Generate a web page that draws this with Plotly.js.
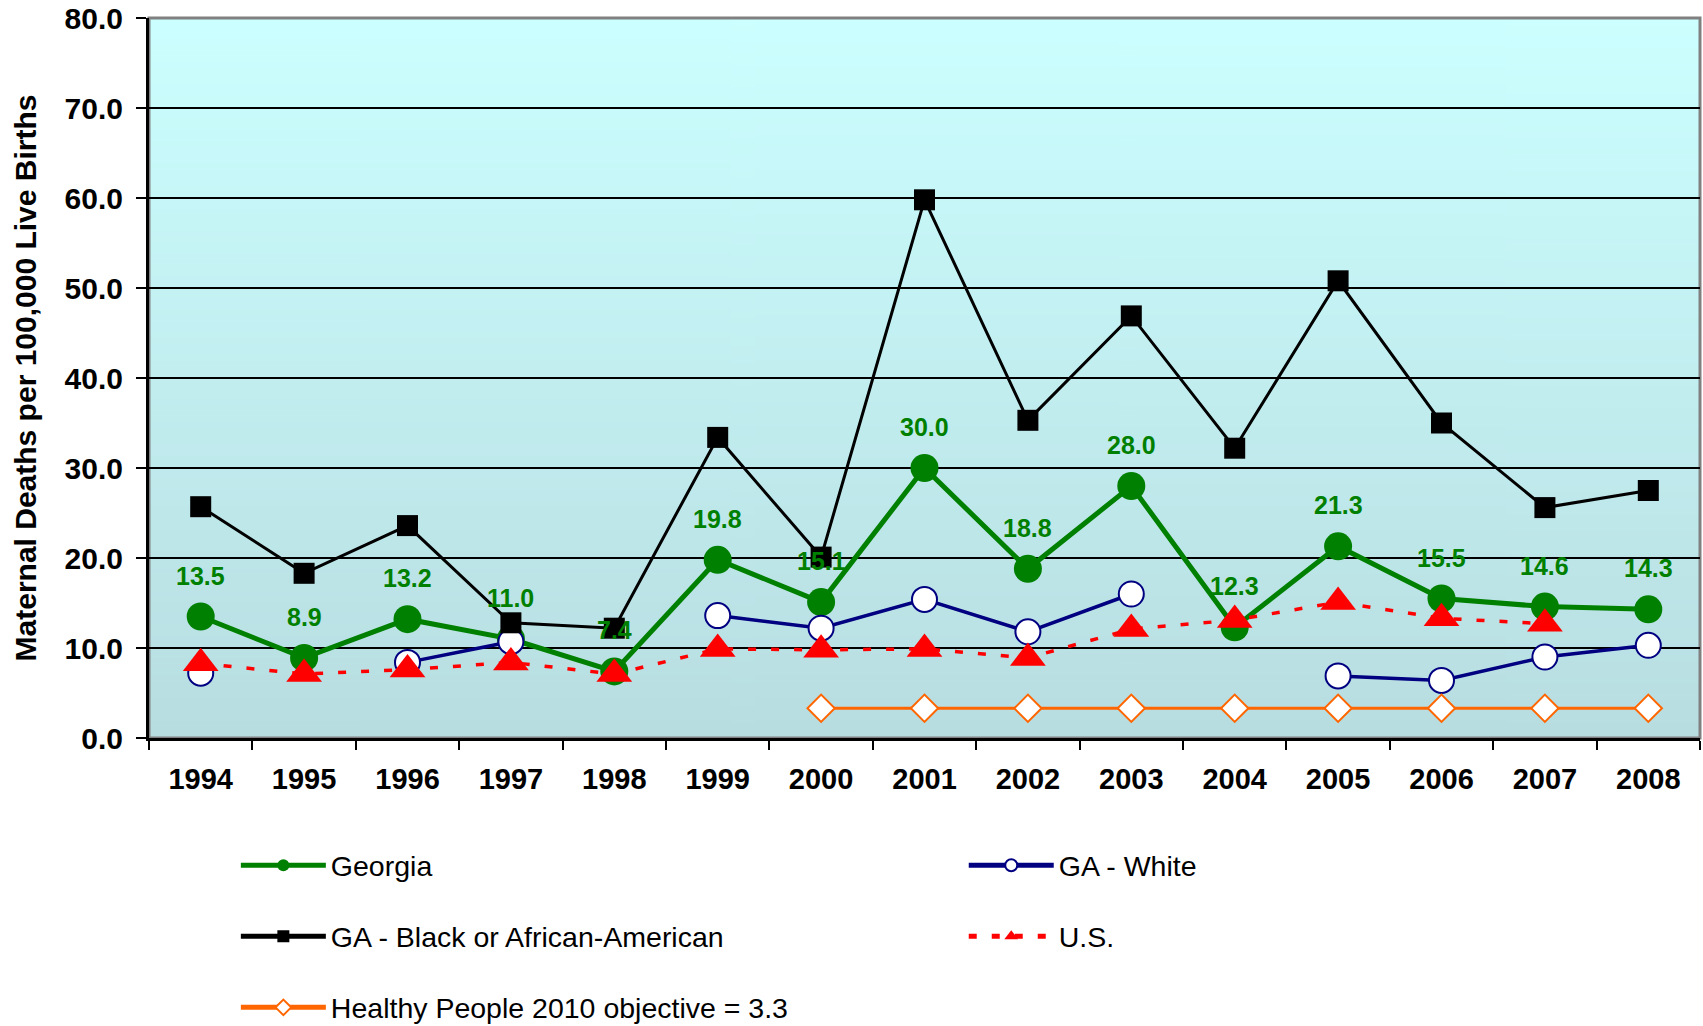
<!DOCTYPE html>
<html><head><meta charset="utf-8">
<script src="https://cdn.plot.ly/plotly-3.0.1.min.js"></script>
<style>html,body{margin:0;padding:0;background:#fff}#chart{width:1703px;height:1026px}</style>
</head><body><div id="chart"></div>
<script>
const years = ['1994','1995','1996','1997','1998','1999','2000','2001','2002','2003','2004','2005','2006','2007','2008'];
const georgia = [13.5, 8.9, 13.2, 11.0, 7.4, 19.8, 15.1, 30.0, 18.8, 28.0, 12.3, 21.3, 15.5, 14.6, 14.3];
const gaWhite = [7.2, null, 8.4, 10.7, null, 13.6, 12.2, 15.4, 11.8, 16.0, null, 6.9, 6.4, 9.0, 10.3];
const gaBlack = [25.7, 18.3, 23.6, 12.8, 12.2, 33.4, 20.1, 59.8, 35.3, 46.9, 32.2, 50.8, 35.0, 25.6, 27.5];
const us = [8.3, 7.1, 7.6, 8.4, 7.1, 9.9, 9.8, 9.9, 8.9, 12.1, 13.1, 15.1, 13.3, 12.7, null];
const healthyPeople = [null, null, null, null, null, null, 3.3, 3.3, 3.3, 3.3, 3.3, 3.3, 3.3, 3.3, 3.3];
const yTicks = [0, 10, 20, 30, 40, 50, 60, 70, 80];

const FONT = 'Liberation Sans, Arial, sans-serif';

// vertical gradient for the plot area background
const cv = document.createElement('canvas');
cv.width = 4; cv.height = 256;
const ctx = cv.getContext('2d');
const grad = ctx.createLinearGradient(0, 0, 0, 256);
grad.addColorStop(0, '#CCFFFF');
grad.addColorStop(1, '#B8DDE1');
ctx.fillStyle = grad; ctx.fillRect(0, 0, 4, 256);
const bgURL = cv.toDataURL();

const traces = [
  {x: years, y: georgia, name: 'Georgia', mode: 'lines+markers', legend: 'legend', legendgroup: 'g1',
   line: {color: '#008000', width: 5}, marker: {symbol: 'circle', size: 28, color: '#008000'}},
  {x: years, y: gaWhite, name: 'GA - White', mode: 'lines+markers', legend: 'legend2', legendgroup: 'g2',
   line: {color: '#000080', width: 3.5}, marker: {symbol: 'circle', size: 25, color: '#FFFFFF', line: {color: '#000080', width: 2}}},
  {x: years, y: gaBlack, name: 'GA - Black or African-American', mode: 'lines+markers', legend: 'legend', legendgroup: 'g3',
   line: {color: '#000000', width: 3}, marker: {symbol: 'square', size: 21, color: '#000000'}},
  {x: years, y: us, name: 'U.S.', mode: 'lines+markers', legend: 'legend2', legendgroup: 'g4',
   line: {color: '#FF0000', width: 3.5, dash: '8px,15px'}, marker: {symbol: 'triangle-up', size: 31, color: '#FF0000'}},
  {x: years, y: healthyPeople, name: 'Healthy People 2010 objective = 3.3', mode: 'lines+markers', legend: 'legend', legendgroup: 'g5',
   line: {color: '#FF6600', width: 3}, marker: {symbol: 'diamond', size: 21, color: '#FFFFFF', line: {color: '#FF6600', width: 2}}}
];

const labelAnnotations = years.map(function(yr, i) {
  return {
    x: i, y: georgia[i], xref: 'x', yref: 'y', text: georgia[i].toFixed(1), showarrow: false, yshift: 41,
    font: {family: FONT, size: 25, color: '#008000', weight: 'bold'}
  };
});

const legendCommon = {
  orientation: 'v', xanchor: 'left', yanchor: 'top', bgcolor: 'rgba(0,0,0,0)',
  font: {family: FONT, size: 28.5, color: '#000'}, itemwidth: 85, itemsizing: 'constant',
  tracegroupgap: 31, traceorder: 'grouped'
};

const layout = {
  width: 1703, height: 1026,
  margin: {l: 149, r: 3, t: 18, b: 288, autoexpand: false},
  paper_bgcolor: '#FFFFFF', plot_bgcolor: 'rgba(0,0,0,0)',
  font: {family: FONT, color: '#000'},
  showlegend: true,
  xaxis: {
    type: 'category', range: [-0.5, 14.5], tickson: 'boundaries',
    ticks: 'outside', ticklen: 9, tickwidth: 2, tickcolor: '#000',
    showline: true, linecolor: '#000', linewidth: 3, showgrid: false, zeroline: false,
    tickfont: {family: FONT, size: 29, color: '#000', weight: 'bold'}, ticklabelstandoff: 13
  },
  yaxis: {
    range: [0, 80], tickmode: 'array', tickvals: yTicks, ticktext: yTicks.map(v => v.toFixed(1)),
    ticks: 'outside', ticklen: 10, tickwidth: 2, tickcolor: '#000',
    showline: true, linecolor: '#000', linewidth: 3, showgrid: true, gridcolor: '#000', gridwidth: 2, zeroline: false,
    tickfont: {family: FONT, size: 30, color: '#000', weight: 'bold'}, ticklabelstandoff: 7,
    title: {text: 'Maternal Deaths per 100,000 Live Births', font: {family: FONT, size: 30, color: '#000', weight: 'bold'}, standoff: 20}
  },
  legend: Object.assign({x: 0.056, y: -0.142}, legendCommon),
  legend2: Object.assign({x: 0.5253, y: -0.142}, legendCommon),
  images: [{source: bgURL, xref: 'paper', yref: 'paper', x: 0, y: 1, sizex: 1, sizey: 1, sizing: 'stretch', layer: 'below'}],
  shapes: [{type: 'rect', xref: 'paper', yref: 'paper', x0: 0, x1: 1, y0: 0, y1: 1, layer: 'below', line: {color: '#808080', width: 3}}],
  annotations: labelAnnotations
};

Plotly.newPlot('chart', traces, layout, {displayModeBar: false, staticPlot: true});
</script>
</body></html>
